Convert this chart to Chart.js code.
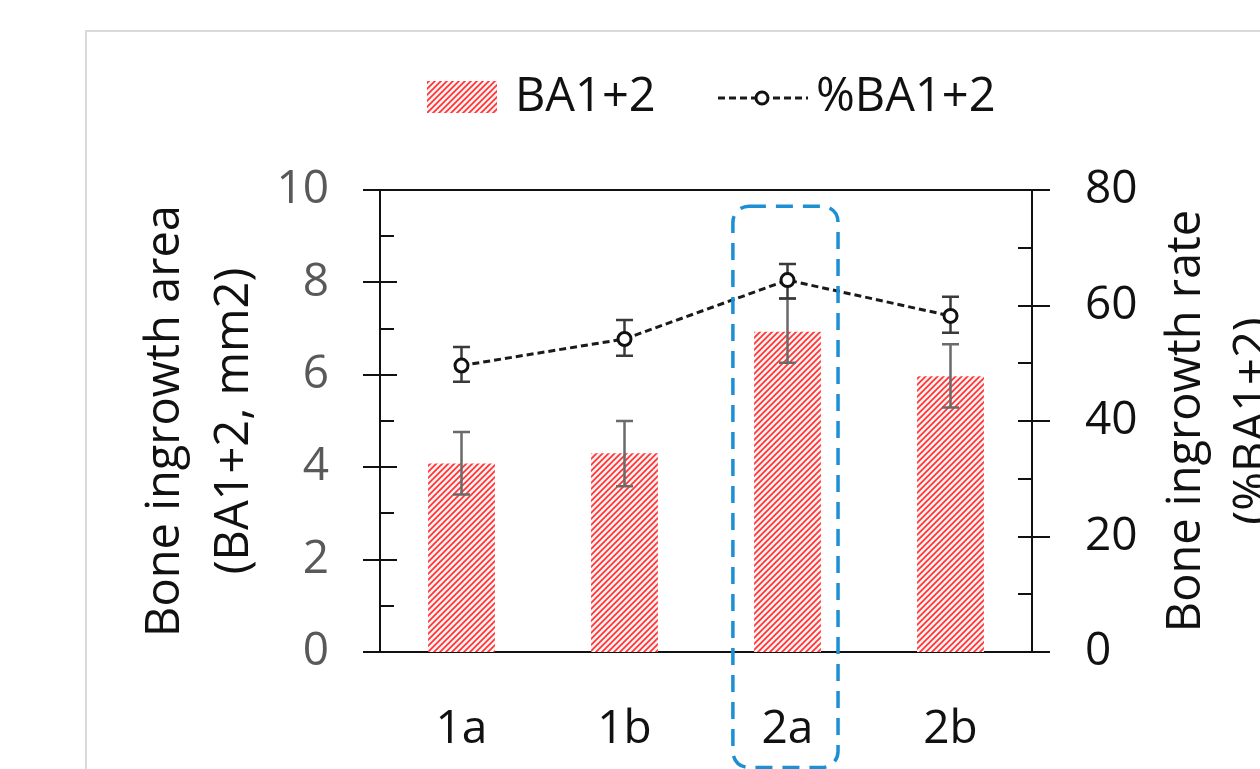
<!DOCTYPE html>
<html><head><meta charset="utf-8">
<script src="https://cdn.jsdelivr.net/npm/chart.js@4/dist/chart.umd.min.js"></script>
<style>html,body{margin:0;padding:0;background:#fff;overflow:hidden}</style>
</head><body>
<canvas id="c" width="1260" height="769"></canvas>
<script>
// ---- data ----
const categories = ['1a', '1b', '2a', '2b'];
const areaValues = [4.08, 4.30, 6.93, 5.97];          // BA1+2 (mm2), left axis
const areaErrLow = [3.41, 3.59, 6.26, 5.29];
const areaErrHigh = [4.76, 5.00, 7.65, 6.66];
const rateValues = [49.6, 54.2, 64.4, 58.2];          // %BA1+2, right axis
const rateErrLow = [46.8, 51.3, 61.2, 55.3];
const rateErrHigh = [52.8, 57.5, 67.2, 61.5];
const leftTicks = [0, 2, 4, 6, 8, 10];
const leftMinorTicks = [1, 3, 5, 7, 9];
const rightTicks = [0, 20, 40, 60, 80];
const rightMinorTicks = [10, 30, 50, 70];
const seriesNames = ['BA1+2', '%BA1+2'];
const leftTitle = ['Bone ingrowth area', '(BA1+2, mm2)'];
const rightTitle = ['Bone ingrowth rate', '(%BA1+2)'];
const highlightRange = { from: 1.665, to: 2.31, top: 9.65, bottom: -2.5 };

const FONT = "'Open Sans', 'Liberation Sans', sans-serif";
const canvas = document.getElementById('c');
const ctx0 = canvas.getContext('2d');

function makeHatch(ctx) {
  const s = 6;
  const c = document.createElement('canvas');
  c.width = s; c.height = s;
  const g = c.getContext('2d');
  g.fillStyle = '#fff2f2';
  g.fillRect(0, 0, s, s);
  g.strokeStyle = 'rgba(255,35,35,0.92)';
  g.lineWidth = 1.7;
  g.beginPath();
  g.moveTo(0, s); g.lineTo(s, 0);
  g.moveTo(-s, s); g.lineTo(s, -s);
  g.moveTo(0, 2 * s); g.lineTo(2 * s, 0);
  g.stroke();
  return ctx.createPattern(c, 'repeat');
}
const hatch = makeHatch(ctx0);

const decor = {
  id: 'decor',
  beforeDraw(chart) {
    const ctx = chart.ctx;
    ctx.save();
    ctx.fillStyle = '#fff';
    ctx.fillRect(0, 0, chart.width, chart.height);
    ctx.strokeStyle = '#d9d9d9';
    ctx.lineWidth = 2;
    ctx.beginPath();
    ctx.moveTo(86, chart.height + 5);
    ctx.lineTo(86, 31);
    ctx.lineTo(chart.width + 5, 31);
    ctx.stroke();
    ctx.restore();
  },
  beforeDatasetDraw(chart, args) {
    const ctx = chart.ctx;
    const meta = args.meta;
    if (meta.type !== 'line') return;
    const x = chart.scales.x, y1 = chart.scales.y1;
    ctx.save();
    ctx.strokeStyle = '#3a3a3a';
    ctx.lineWidth = 2.5;
    for (let i = 0; i < categories.length; i++) {
      const px = x.getPixelForValue(i);
      const a = y1.getPixelForValue(rateErrLow[i]);
      const b = y1.getPixelForValue(rateErrHigh[i]);
      ctx.beginPath();
      ctx.moveTo(px, a); ctx.lineTo(px, b);
      ctx.moveTo(px - 8.5, a); ctx.lineTo(px + 8.5, a);
      ctx.moveTo(px - 8.5, b); ctx.lineTo(px + 8.5, b);
      ctx.stroke();
    }
    ctx.restore();
  },
  afterDatasetDraw(chart, args) {
    const ctx = chart.ctx;
    const meta = args.meta;
    if (meta.type !== 'bar') return;
    const x = chart.scales.x, y = chart.scales.y;
    ctx.save();
    ctx.strokeStyle = '#6a6a6a';
    ctx.lineWidth = 2.5;
    for (let i = 0; i < categories.length; i++) {
      const px = x.getPixelForValue(i);
      const a = y.getPixelForValue(areaErrLow[i]);
      const b = y.getPixelForValue(areaErrHigh[i]);
      ctx.beginPath();
      ctx.moveTo(px, a); ctx.lineTo(px, b);
      ctx.moveTo(px - 8.5, a); ctx.lineTo(px + 8.5, a);
      ctx.moveTo(px - 8.5, b); ctx.lineTo(px + 8.5, b);
      ctx.stroke();
    }
    ctx.restore();
  },
  afterDraw(chart) {
    const ctx = chart.ctx;
    const ca = chart.chartArea;
    const x = chart.scales.x, y = chart.scales.y, y1 = chart.scales.y1;
    ctx.save();
    // top frame line
    ctx.strokeStyle = '#111';
    ctx.lineWidth = 2;
    ctx.beginPath();
    ctx.moveTo(ca.left - 1, ca.top); ctx.lineTo(ca.right + 1, ca.top);
    ctx.stroke();
    // axis ticks
    ctx.beginPath();
    leftTicks.forEach(v => { const p = Math.round(y.getPixelForValue(v)); ctx.moveTo(ca.left - 17, p); ctx.lineTo(ca.left + 17, p); });
    leftMinorTicks.forEach(v => { const p = Math.round(y.getPixelForValue(v)); ctx.moveTo(ca.left, p); ctx.lineTo(ca.left + 14, p); });
    rightTicks.forEach(v => { const p = Math.round(y1.getPixelForValue(v)); ctx.moveTo(ca.right - 14, p); ctx.lineTo(ca.right + 18, p); });
    rightMinorTicks.forEach(v => { const p = Math.round(y1.getPixelForValue(v)); ctx.moveTo(ca.right - 14, p); ctx.lineTo(ca.right, p); });
    ctx.stroke();

    // right axis title (reads bottom-to-top like the left one)
    ctx.fillStyle = '#111';
    ctx.font = '47px ' + FONT;
    ctx.textAlign = 'center';
    ctx.textBaseline = 'middle';
    const cy = (ca.top + ca.bottom) / 2;
    [[rightTitle[0], 155], [rightTitle[1], 222]].forEach(([t, off]) => {
      ctx.save();
      ctx.translate(ca.right + off, cy);
      ctx.rotate(-Math.PI / 2);
      ctx.fillText(t, 0, 0);
      ctx.restore();
    });

    // highlight box around 2a
    const hx0 = x.getPixelForValue(highlightRange.from);
    const hx1 = x.getPixelForValue(highlightRange.to);
    const hy0 = y.getPixelForValue(highlightRange.top);
    const hy1 = y.getPixelForValue(highlightRange.bottom);
    ctx.strokeStyle = '#1d8fd2';
    ctx.lineWidth = 3.5;
    ctx.setLineDash([17, 10]);
    ctx.beginPath();
    ctx.roundRect(hx0, hy0, hx1 - hx0, hy1 - hy0, 16);
    ctx.stroke();
    ctx.setLineDash([]);

    // legend
    ctx.fillStyle = hatch;
    ctx.fillRect(427, 81, 70, 32);
    ctx.fillStyle = '#111';
    ctx.textAlign = 'left';
    ctx.textBaseline = 'middle';
    ctx.font = '47px ' + FONT;
    ctx.fillText(seriesNames[0], 515, 98);
    ctx.strokeStyle = '#1a1a1a';
    ctx.lineWidth = 3;
    ctx.setLineDash([7, 4]);
    ctx.beginPath();
    ctx.moveTo(718, 98); ctx.lineTo(808, 98);
    ctx.stroke();
    ctx.setLineDash([]);
    ctx.beginPath();
    ctx.arc(762, 98, 6, 0, Math.PI * 2);
    ctx.fillStyle = '#fff';
    ctx.fill();
    ctx.strokeStyle = '#111';
    ctx.stroke();
    ctx.fillStyle = '#111';
    ctx.fillText(seriesNames[1], 816, 98);
    ctx.restore();
  }
};

new Chart(canvas, {
  data: {
    labels: categories,
    datasets: [
      {
        type: 'line', label: seriesNames[1], data: rateValues, yAxisID: 'y1', order: 1,
        borderColor: '#1a1a1a', borderWidth: 3, borderDash: [7, 4], tension: 0,
        pointRadius: 6.5, pointBorderWidth: 3, pointBackgroundColor: '#fff', pointBorderColor: '#111'
      },
      {
        type: 'bar', label: seriesNames[0], data: areaValues, yAxisID: 'y', order: 2,
        backgroundColor: hatch, borderWidth: 0, categoryPercentage: 1, barPercentage: 0.41
      }
    ]
  },
  options: {
    responsive: false,
    animation: false,
    devicePixelRatio: 1,
    layout: { padding: { top: 190, left: 0, right: 0, bottom: 0 } },
    plugins: { legend: { display: false }, tooltip: { enabled: false } },
    scales: {
      x: {
        type: 'category', offset: true,
        grid: { display: false, drawTicks: false },
        border: { display: true, color: '#111', width: 2 },
        ticks: { color: '#111', font: { family: FONT, size: 46 }, padding: 50, maxRotation: 0 },
        afterFit(s) { s.height = 117; }
      },
      y: {
        type: 'linear', position: 'left', min: 0, max: 10,
        grid: { display: false, drawTicks: false },
        border: { display: true, color: '#111', width: 2 },
        ticks: { stepSize: 2, color: '#595959', font: { family: FONT, size: 46 }, padding: 51 },
        title: { display: true, text: leftTitle, color: '#111', font: { family: FONT, size: 47, lineHeight: 1.45 }, padding: { top: 132, bottom: 0 } },
        afterFit(s) { s.width = 380; }
      },
      y1: {
        type: 'linear', position: 'right', min: 0, max: 80,
        grid: { display: false, drawTicks: false },
        border: { display: true, color: '#111', width: 2 },
        ticks: { stepSize: 20, color: '#111', font: { family: FONT, size: 46 }, padding: 53 },
        afterFit(s) { s.width = 228; }
      }
    }
  },
  plugins: [decor]
});
</script>
</body></html>
